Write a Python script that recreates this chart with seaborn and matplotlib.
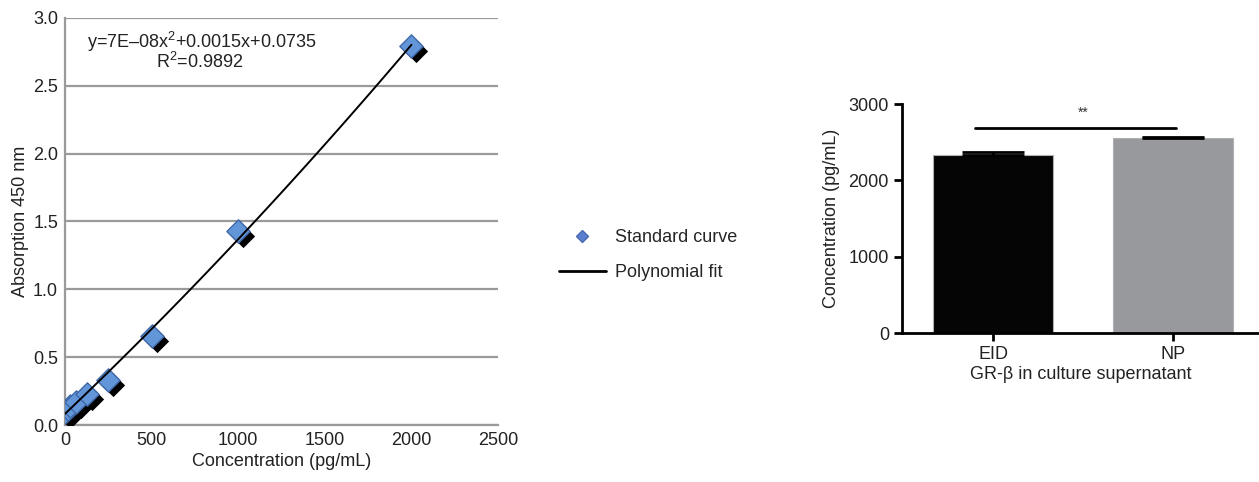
import numpy as np
import pandas as pd
import matplotlib
matplotlib.use("Agg")
import matplotlib.pyplot as plt
import matplotlib.transforms as mtransforms
from matplotlib.lines import Line2D
import seaborn as sns

# standard curve data
conc = [0, 15.6, 31.25, 62.5, 125, 250, 500, 1000, 2000]
absorb = [0.10, 0.12, 0.14, 0.17, 0.23, 0.33, 0.66, 1.43, 2.79]
fit_text = "y=7E\u201308x$^2$+0.0015x+0.0735"
r2_text = "R$^2$=0.9892"

# bar chart data
groups = ["EID", "NP"]
means = [2335, 2555]
sems = [38, 18]
sig_y = 2690

sns.set_theme(style="white")
plt.rcParams['font.family'] = ['Liberation Sans', 'DejaVu Sans']
plt.rcParams['mathtext.fontset'] = 'custom'
plt.rcParams['mathtext.rm'] = 'Liberation Sans'

fs = 13

fig = plt.figure(figsize=(12.59, 4.82), dpi=100)

# ---- left: standard curve ----
ax1 = fig.add_axes([0.0516, 0.118, 0.344, 0.845])
df = pd.DataFrame({"conc": conc, "abs": absorb})

shadow = mtransforms.offset_copy(ax1.transData, fig=fig, x=5, y=-5, units='dots')
ax1.scatter(df["conc"], df["abs"], marker='D', s=140, color='black',
            transform=shadow, zorder=3, linewidths=0)
sns.scatterplot(data=df, x="conc", y="abs", marker='D', s=140, color='#6396d8',
                edgecolor='#3f68a8', linewidth=1.0, ax=ax1, zorder=4)
sns.regplot(data=df, x="conc", y="abs", order=2, ci=None, scatter=False,
            line_kws=dict(color='black', lw=1.4, zorder=5), ax=ax1)

ax1.set_xlim(0, 2500)
ax1.set_ylim(0, 3.0)
ax1.set_xticks(np.arange(0, 2501, 500))
ax1.set_yticks(np.arange(0, 3.01, 0.5))
ax1.set_yticklabels([f"{v:.1f}" for v in np.arange(0, 3.01, 0.5)])
ax1.yaxis.grid(True, color='#9a9a9a', lw=1.6)
ax1.set_axisbelow(True)
for s in ['top', 'right']:
    ax1.spines[s].set_visible(False)
for s in ['left', 'bottom']:
    ax1.spines[s].set_color('#9a9a9a')
    ax1.spines[s].set_linewidth(1.6)
ax1.tick_params(length=0, labelsize=fs, colors='#222222', pad=5)
ax1.set_xlabel("Concentration (pg/mL)", fontsize=fs, color='#222222', labelpad=3)
ax1.set_ylabel("Absorption 450 nm", fontsize=fs, color='#222222', labelpad=3)
ax1.text(0.315, 0.942, fit_text, transform=ax1.transAxes, ha='center', va='center',
         fontsize=fs, color='#222222')
ax1.text(0.31, 0.892, r2_text, transform=ax1.transAxes, ha='center', va='center',
         fontsize=fs, color='#222222')

handles = [
    Line2D([], [], marker='D', linestyle='none', markersize=6,
           markerfacecolor='#5b7fd0', markeredgecolor='#4a68b0'),
    Line2D([], [], color='black', lw=2),
]
fig.legend(handles, ["Standard curve", "Polynomial fit"], loc='center left',
           bbox_to_anchor=(0.431, 0.47), frameon=False, fontsize=fs,
           handlelength=2.6, labelspacing=1.0, handletextpad=0.5)

# ---- right: bar chart ----
ax2 = fig.add_axes([0.7165, 0.309, 0.2835, 0.475])
bdf = pd.DataFrame({"group": groups, "mean": means})
sns.barplot(data=bdf, x="group", y="mean", hue="group",
            palette=['#050505', '#96989e'], width=0.67, ax=ax2,
            edgecolor='#b0b0b4', linewidth=0.8, legend=False)
ax2.errorbar(range(len(groups)), means, yerr=[[0, 0], sems], fmt='none',
             ecolor='black', elinewidth=2, capsize=22, capthick=2, zorder=5)

ax2.set_xlim(-0.506, 1.48)
ax2.set_ylim(0, 3000)
ax2.set_yticks([0, 1000, 2000, 3000])
for s in ['top', 'right']:
    ax2.spines[s].set_visible(False)
for s in ['left', 'bottom']:
    ax2.spines[s].set_color('black')
    ax2.spines[s].set_linewidth(2)
ax2.tick_params(axis='both', direction='out', length=6, width=2, color='black',
                labelsize=fs, labelcolor='#222222', left=True, bottom=True)
ax2.set_xlabel("GR-\u03b2 in culture supernatant", fontsize=fs, color='#222222', labelpad=2)
ax2.set_ylabel("Concentration (pg/mL)", fontsize=fs, color='#222222', labelpad=6)

ax2.plot([-0.1, 1.02], [sig_y, sig_y], color='black', lw=2, clip_on=False)
ax2.text(0.5, sig_y + 200, "**", ha='center', va='center', fontsize=10, color='#333333')

fig.savefig("out.png", dpi=100)
